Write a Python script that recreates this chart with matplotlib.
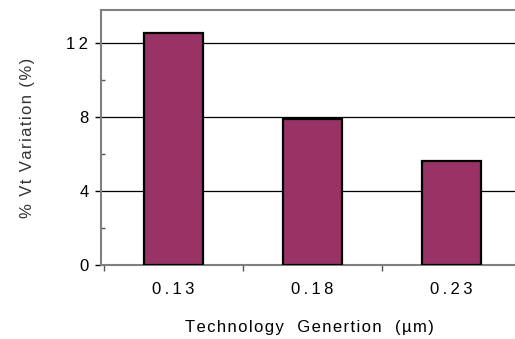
import matplotlib
matplotlib.use("Agg")
import matplotlib.pyplot as plt
from matplotlib.ticker import MultipleLocator, FuncFormatter

categories = ["0.13", "0.18", "0.23"]
values = [12.57, 7.9, 5.64]
x_title = "Technology  Genertion  (µm)"
y_title = "% Vt Variation (%)"

plt.rcParams['font.family'] = ['Liberation Sans', 'DejaVu Sans']

THIN = "\u2009"
HAIR = "\u200a"


def track(s, sep=THIN):
    return sep.join(s)


fig = plt.figure(figsize=(5.15, 3.39), dpi=100)
W, H = 515, 339
x0, x1, ytop, ybot = 101, 518, 10, 265
ax = fig.add_axes([x0 / W, (H - ybot) / H, (x1 - x0) / W, (ybot - ytop) / H])

pos = list(range(len(categories)))
ax.bar(pos, values, width=0.42, color="#993366", edgecolor="black", linewidth=1.6, zorder=3)

cat_px = 139.0
xmin = -0.5 - 3 / cat_px
ax.set_xlim(xmin, xmin + (x1 - x0) / cat_px)
ax.set_ylim(0, 13.8)
ax.yaxis.set_major_locator(MultipleLocator(4))
ax.yaxis.set_minor_locator(MultipleLocator(2))
ax.yaxis.set_major_formatter(FuncFormatter(lambda v, p: track(f"{v:g}")))
ax.grid(axis="y", which="major", color="black", linewidth=0.9, zorder=1)

ax.set_xticks(pos)
ax.set_xticklabels([track(c) for c in categories])
ax.set_xticks([p + 0.5 for p in [-1] + pos[:-1]], minor=True)
ax.tick_params(axis="x", which="major", length=0, pad=12, labelsize=12)
ax.tick_params(axis="x", which="minor", length=4, direction="out", color="#555555", width=1)
ax.tick_params(axis="y", which="major", length=4, direction="out", color="black", width=1, labelsize=12, pad=5)
ax.tick_params(axis="y", which="minor", length=3, direction="in", color="#555555", width=1)

for s in ["left", "bottom", "top"]:
    ax.spines[s].set_color("#7f7f7f")
    ax.spines[s].set_linewidth(1.5)
ax.spines["right"].set_visible(False)

ax.set_xlabel(track(x_title, HAIR), fontsize=12, labelpad=17)
ax.set_ylabel(track(y_title, HAIR), fontsize=12, labelpad=23, color="#333333")

fig.savefig("out.png", dpi=100)
